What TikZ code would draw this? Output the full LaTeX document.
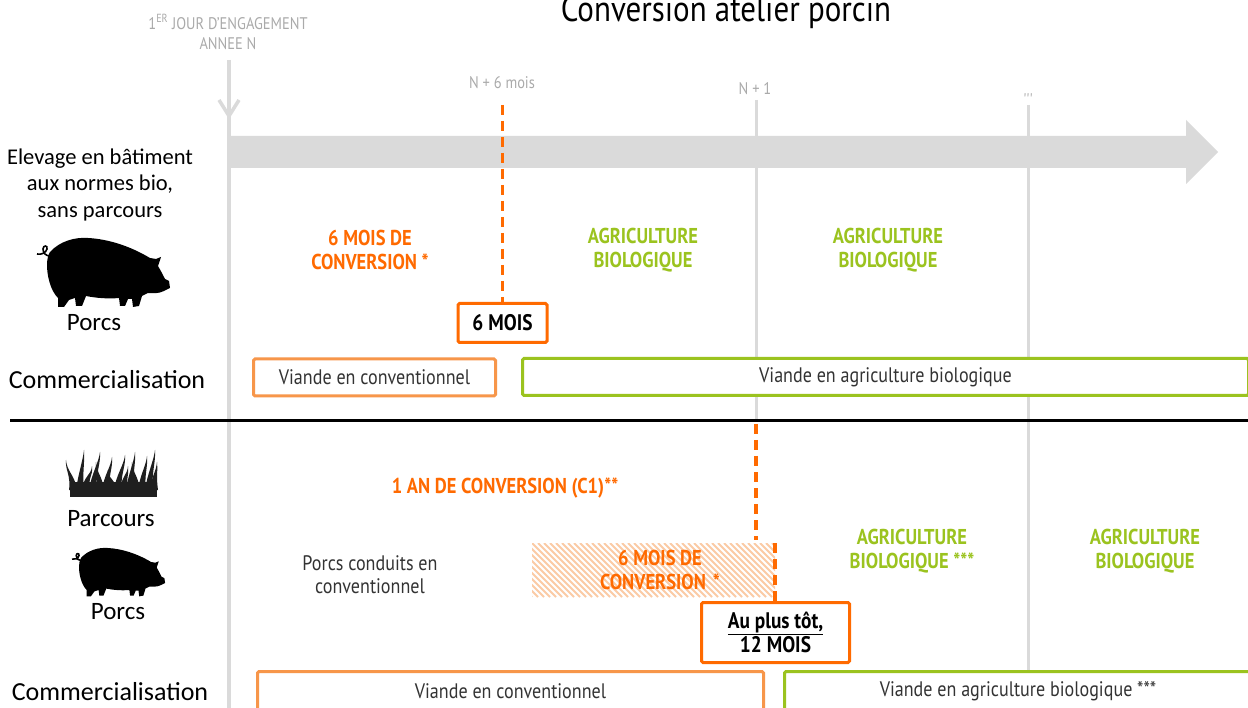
\documentclass[tikz,border=0pt]{standalone}
\usepackage{fontspec}
\setmainfont{Carlito}
\newfontfamily\din[FakeStretch=0.86]{PT Sans}
\definecolor{orng}{HTML}{FF6A00}
\definecolor{lorng}{HTML}{F7964A}
\definecolor{hatchc}{HTML}{FBCBA5}
\definecolor{grn}{HTML}{9BC31F}
\definecolor{gline}{HTML}{DADADA}
\definecolor{glabel}{HTML}{AAAAAA}
\definecolor{dtext}{HTML}{333333}
\newcommand{\pigsil}{%
  \fill[black] (50,252) .. controls (60,241) and (75,237) .. (88,238)
   .. controls (108,239) and (130,246) .. (150,258)
   -- (156,259) -- (161,257) -- (158,266)
   .. controls (161,271) and (163,275) .. (165,279)
   -- (169,281) -- (170,288) -- (164,291)
   .. controls (158,294) and (153,293) .. (148,293)
   -- (142,296) -- (139,306) -- (133,307) -- (132,299)
   -- (128,299) -- (125,306) -- (120,306) -- (119,298)
   .. controls (108,299) and (96,298) .. (86,296)
   -- (82,306) -- (76,306) -- (75,298)
   -- (69,300) -- (64,307) -- (58,307) -- (58,298)
   .. controls (50,290) and (47,275) .. (47,265)
   .. controls (47,260) and (48,255) .. (50,252) -- cycle;
  \draw[black, line width=1.6pt] (50,256) .. controls (46,256) and (43,253) .. (43,249)
   .. controls (43,245) and (48,245) .. (47,249)
   .. controls (46,253) and (41,255) .. (37,254);
}
\begin{document}
\begin{tikzpicture}[x=1pt,y=-1pt,
  leftlbl/.style={font=\fontsize{22.5}{26.5}\selectfont, align=center, inner sep=0pt, text=black},
  animlbl/.style={font=\fontsize{25}{30}\selectfont, inner sep=0pt, text=black},
  commlbl/.style={font=\fontsize{26}{30}\selectfont, inner sep=0pt, text=black},
  graylbl/.style={font=\din\fontsize{16.8}{20}\selectfont, text=glabel, align=center, inner sep=0pt},
  phaseor/.style={font=\din\bfseries\fontsize{21.5}{24}\selectfont, text=orng, align=center, inner sep=0pt},
  phasegr/.style={font=\din\bfseries\fontsize{21.5}{24}\selectfont, text=grn, align=center, inner sep=0pt},
  bodytxt/.style={font=\din\fontsize{21}{23}\selectfont, text=dtext, align=center, inner sep=0pt},
  salebox/.style={draw, line width=3pt, rounded corners=1.5pt, fill=white, inner sep=0pt, font=\din\fontsize{21}{22}\selectfont, text=dtext},
  convbox/.style={salebox, draw=lorng},
  biobox/.style={salebox, draw=grn},
  keybox/.style={draw=orng, line width=3pt, rounded corners=1.5pt, fill=white, inner sep=0pt, align=center, font=\din\bfseries\fontsize{22.5}{24}\selectfont, text=black},
  gridline/.style={draw=gline, line width=3pt},
  orangedash/.style={draw=orng, line width=3.5pt, dash pattern=on 10pt off 6pt},
  hatchline/.style={draw=hatchc, line width=2pt},
]
\path[use as bounding box] (0,0) rectangle (1248,708);
\clip (0,0) rectangle (1248,708);
\fill[white] (0,0) rectangle (1248,708);

% grey grid lines
\coordinate (g0top) at (229,60);
\coordinate (g0bot) at (229,708);
\coordinate (g1top) at (756,100);
\coordinate (g1bot) at (756,421);
\coordinate (g2top) at (1028,105);
\coordinate (g2bot) at (1028,670);
\draw[gridline, line width=3.5pt] (g0top) -- (g0bot);
\draw[gridline, line width=3.5pt] (219,100) -- (229,116) -- (239,100);
\draw[gridline] (g1top) -- (g1bot);
\draw[gridline] (g2top) -- (g2bot);

% big timeline arrow
\fill[gline] (229,136) -- (1186,136) -- (1186,120) -- (1218,152) -- (1186,184) -- (1186,168) -- (229,168) -- cycle;

% separator
\coordinate (sepL) at (10,421);
\coordinate (sepR) at (1248,421);
\draw[black, line width=3pt] (sepL) -- (sepR);

% title and top labels
\node[anchor=base, font=\din\fontsize{36}{40}\selectfont, inner sep=0pt] (title) at (726,22) {Conversion atelier porcin};
\node[graylbl] (startlbl) at (228,32) {1\textsuperscript{ER} JOUR D’ENGAGEMENT\\ANNEE N};
\node[graylbl] (n6) at (502,83) {N + 6 mois};
\node[graylbl] (n1) at (755,89) {N + 1};
\node[graylbl] (etc) at (1028,100) {\symbol{"27}\symbol{"27}\symbol{"27}};

% left labels
\node[leftlbl] (elev) at (100,185) {Elevage en bâtiment\\aux normes bio,\\sans parcours};
\pigsil
\node[animlbl] (porcs1) at (94,323) {Porcs};
\node[commlbl] (comm1) at (107,380) {Commercialisation};

\fill[black!88] (70,482) rectangle (157,497);
\foreach \xb/\xt/\yt in {73/66/460, 80/84/450, 86/92/466, 93/100/452, 100/96/462, 106/112/457, 112/108/470, 118/125/455, 124/128/466, 130/135/452, 136/132/462, 142/147/456, 149/155/450, 154/157/462}
  \fill[black!88] ({\xb-4},490) .. controls ({\xb-2},475) and ({\xt-1},{\yt+10}) .. (\xt,\yt) .. controls ({\xt+1},{\yt+12}) and ({\xb+2},475) .. ({\xb+4},490) -- cycle;
\node[animlbl] (parcours) at (111,519) {Parcours};
\begin{scope}[shift={(46.1,381.4)}, scale=0.7]
\pigsil
\end{scope}
\node[animlbl] (porcs2) at (118,612) {Porcs};
\node[commlbl] (comm2) at (110,692) {Commercialisation};

% upper section
\node[phaseor] (conv6a) at (370,250) {6 MOIS DE\\CONVERSION *};
\node[phasegr] (bio1) at (643,250) {AGRICULTURE\\BIOLOGIQUE};
\node[phasegr] (bio2) at (888,250) {AGRICULTURE\\BIOLOGIQUE};
\node[keybox, minimum width=89pt, minimum height=39pt] (mois6) at (502.5,323) {6 MOIS};
\coordinate (d1) at (502.5,105);
\draw[orangedash] (d1) -- (d1 |- mois6.north);
\node[convbox, minimum width=242pt, minimum height=37pt] (vc1) at (374.5,377.5) {Viande en conventionnel};
\node[biobox, minimum width=726pt, minimum height=37pt] (vb1) at (885.5,377) {Viande en agriculture biologique};

% lower section
\node[phaseor] (conv12) at (505,488) {1 AN DE CONVERSION (C1)**};
\node[bodytxt] (pconv) at (370,575) {Porcs conduits en\\conventionnel};
\begin{scope}
\clip (532,543) rectangle (775,597);
\foreach \i in {0,...,51} \draw[hatchline] ({478+6*\i},543) -- ({532+6*\i},597);
\end{scope}
\node[phaseor] (conv6b) at (660,570) {6 MOIS DE\\CONVERSION\hspace{7pt}*};
\node[phasegr] (bio3) at (912,551) {AGRICULTURE\\BIOLOGIQUE ***};
\node[phasegr] (bio4) at (1145,551) {AGRICULTURE\\BIOLOGIQUE};
\node[keybox, minimum width=148pt, minimum height=60pt] (plustot) at (775.5,632.5) {\underline{Au plus tôt,}\\12 MOIS};
\coordinate (d2) at (756,424);
\coordinate (d2e) at (756,540);
\draw[orangedash] (d2) -- (d2e);
\coordinate (d3) at (775,543);
\draw[orangedash] (d3) -- (d3 |- plustot.north);
\node[convbox, minimum width=506pt, minimum height=39pt] (vc2) at (510.5,691) {Viande en conventionnel};
\node[biobox, minimum width=467pt, minimum height=39pt] (vb2) at (1018,691) {Viande en agriculture biologique ***};
\end{tikzpicture}
\end{document}
